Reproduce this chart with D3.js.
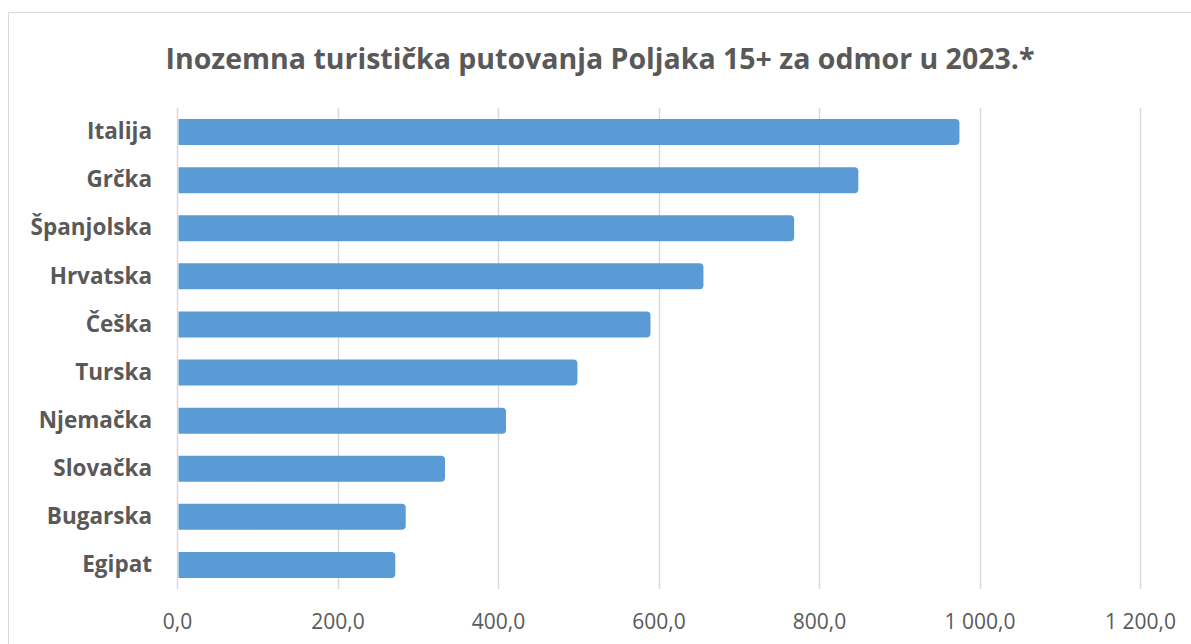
<!DOCTYPE html>
<html>
<head>
<meta charset="utf-8">
<script src="https://cdn.jsdelivr.net/npm/d3@7"></script>
<style>
  body { margin: 0; background: #fff; }
  svg { display: block; font-family: "Open Sans", sans-serif; }
</style>
</head>
<body>
<div id="chart"></div>
<script>
// data
var countries = ["Italija", "Grčka", "Španjolska", "Hrvatska", "Češka", "Turska", "Njemačka", "Slovačka", "Bugarska", "Egipat"];
var trips = [975, 849, 769, 656, 590, 499, 410, 334, 285, 272];
var tickValues = [0, 200, 400, 600, 800, 1000, 1200];
var title = "Inozemna turistička putovanja Poljaka 15+ za odmor u 2023.*";

var W = 1191, H = 644;
var margin = {top: 108, right: 51, bottom: 55, left: 177},
    width = W - margin.left - margin.right,
    height = H - margin.top - margin.bottom;

var svg = d3.select("#chart").append("svg")
    .attr("width", W)
    .attr("height", H);

// chart frame
svg.append("rect")
    .attr("x", 8.5).attr("y", 12.5)
    .attr("width", W - 8).attr("height", H)
    .attr("fill", "none")
    .attr("stroke", "#d9d9d9")
    .attr("stroke-width", 1);

svg.append("text")
    .attr("x", 600)
    .attr("y", 69)
    .attr("text-anchor", "middle")
    .style("font-weight", "bold")
    .style("font-size", "28.5px")
    .style("fill", "#595959")
    .text(title);

var g = svg.append("g")
    .attr("transform", "translate(" + margin.left + "," + margin.top + ")");

var x = d3.scaleLinear().domain([0, 1200]).range([0, width]);
var y = d3.scaleBand().domain(countries).range([0, height]).paddingInner(0.46).paddingOuter(0.23);

// gridlines
g.selectAll(".grid")
    .data(tickValues)
  .enter().append("line")
    .attr("class", "grid")
    .attr("x1", function(d) { return Math.round(x(d)) + 0.5; })
    .attr("x2", function(d) { return Math.round(x(d)) + 0.5; })
    .attr("y1", 0)
    .attr("y2", height)
    .attr("stroke", "#d9d9d9")
    .attr("stroke-width", 1.5);

var fmt = function(d) {
  var s = d3.format(".1f")(d).replace(".", ",");
  if (d >= 1000) s = s.replace(/^(\d)(\d{3})/, "$1 $2");
  return s;
};

var xAxis = d3.axisBottom(x).tickValues(tickValues).tickSize(0).tickPadding(25).tickFormat(fmt);
var ax = g.append("g")
    .attr("transform", "translate(0," + height + ")")
    .call(xAxis);
ax.select(".domain").remove();
ax.selectAll("text")
    .style("font-size", "21px")
    .style("fill", "#595959")
    .style("font-family", "'Open Sans', sans-serif");

var yAxis = d3.axisLeft(y).tickSize(0).tickPadding(25);
var ay = g.append("g").call(yAxis);
ay.select(".domain").remove();
ay.selectAll("text")
    .style("font-size", "22.5px")
    .style("font-weight", "bold")
    .style("fill", "#595959")
    .style("font-family", "'Open Sans', sans-serif");

// bars with rounded right end
var r = 4;
g.selectAll(".bar")
    .data(countries)
  .enter().append("path")
    .attr("class", "bar")
    .attr("fill", "#5b9bd5")
    .attr("d", function(d, i) {
      var x0 = x(0) + 1.5, x1 = x(trips[i]), y0 = y(d), h = y.bandwidth();
      return "M" + x0 + "," + y0 +
        "H" + (x1 - r) +
        "Q" + x1 + "," + y0 + " " + x1 + "," + (y0 + r) +
        "V" + (y0 + h - r) +
        "Q" + x1 + "," + (y0 + h) + " " + (x1 - r) + "," + (y0 + h) +
        "H" + x0 + "Z";
    });
</script>
</body>
</html>
